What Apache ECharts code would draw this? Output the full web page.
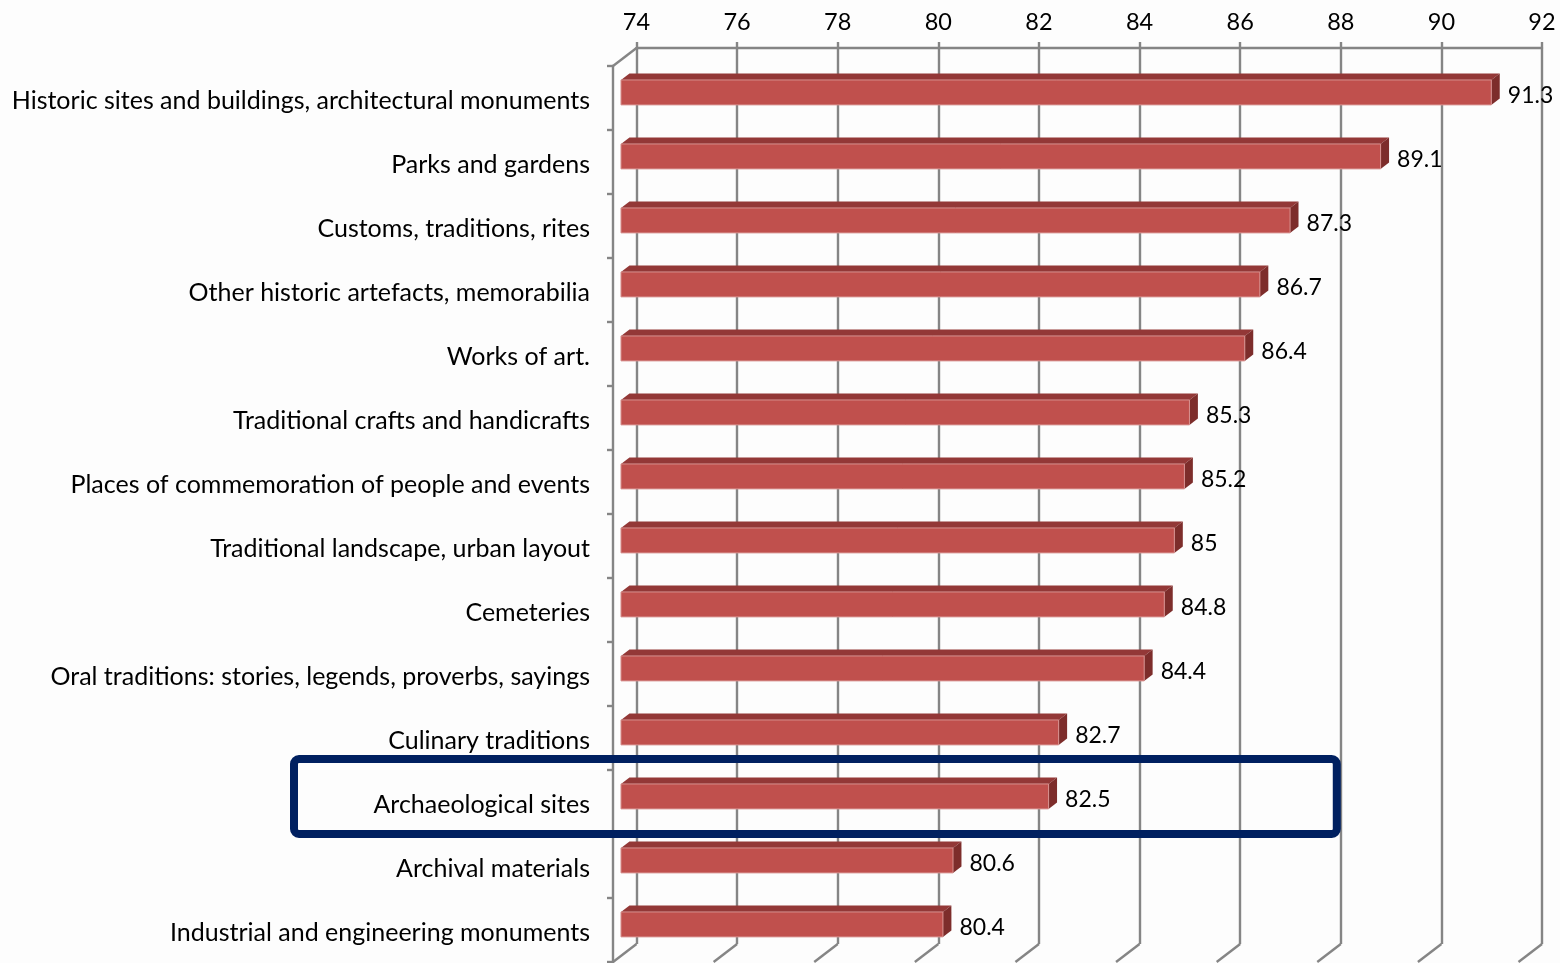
<!DOCTYPE html>
<html>
<head>
<meta charset="utf-8">
<script src="https://cdn.jsdelivr.net/npm/echarts@6/dist/echarts.min.js"></script>
<style>
  html, body { margin: 0; padding: 0; background: #fdfdfd; }
  #chart { width: 1560px; height: 963px; }
</style>
</head>
<body>
<div id="chart"></div>
<script>
// Categories, top to bottom
const categories = [
  'Historic sites and buildings, architectural monuments',
  'Parks and gardens',
  'Customs, traditions, rites',
  'Other historic artefacts, memorabilia',
  'Works of art.',
  'Traditional crafts and handicrafts',
  'Places of commemoration of people and events',
  'Traditional landscape, urban layout',
  'Cemeteries',
  'Oral traditions: stories, legends, proverbs, sayings',
  'Culinary traditions',
  'Archaeological sites',
  'Archival materials',
  'Industrial and engineering monuments'
];
const values = [91.3, 89.1, 87.3, 86.7, 86.4, 85.3, 85.2, 85, 84.8, 84.4, 82.7, 82.5, 80.6, 80.4];
const tickValues = [74, 76, 78, 80, 82, 84, 86, 88, 90, 92];
const highlighted = 'Archaeological sites';

const axisMin = 74, axisMax = 92, axisStep = 2;
const FONT = 'Lato';
const GRID_COLOR = '#858585';
// floor depth: offset from the back wall to the front edge of the side wall
const DEPTH = [23.5, -18];

const chart = echarts.init(document.getElementById('chart'), null, { renderer: 'canvas' });

// pseudo-3D bar: front face, darker top and right faces, value label
function renderBar(params, api) {
  const cat = api.value(0);
  const v = api.value(1);
  const p0 = api.coord([axisMin, cat]);
  const p1 = api.coord([v, cat]);
  const band = api.size([0, 1])[1];
  const h = band * 0.39;
  const fx = -DEPTH[0] * 0.66, fy = -DEPTH[1] * 0.69;   // bar front plane
  const bx = -DEPTH[0] * 0.30, by = -DEPTH[1] * 0.33;   // bar back plane
  const dx = bx - fx, dy = by - fy;
  const cy = p0[1];
  const xL = p0[0] + fx, xR = p1[0] + fx;
  const yT = cy + fy - h / 2, yB = cy + fy + h / 2;
  return {
    type: 'group',
    children: [
      { type: 'polygon', shape: { points: [[xL, yT], [xR, yT], [xR + dx, yT + dy], [xL + dx, yT + dy]] },
        style: { fill: '#933837' } },
      { type: 'polygon', shape: { points: [[xR, yT], [xR + dx, yT + dy], [xR + dx, yB + dy], [xR, yB]] },
        style: { fill: '#7d2d2b' } },
      { type: 'rect', shape: { x: xL, y: yT, width: xR - xL, height: h },
        style: { fill: '#C0504D', stroke: '#d7918f', lineWidth: 1 } },
      { type: 'text', style: { text: String(v), x: p1[0] + 1, y: cy + 16, fontFamily: FONT, fontSize: 23,
        fill: '#000', align: 'left', verticalAlign: 'middle' } }
    ]
  };
}

// floor edges of the back-wall gridlines and the top edge of the side wall
function renderFloor(params, api) {
  const t = api.value(0);
  const cs = params.coordSys;
  const x = api.coord([t, 0])[0];
  const yb = cs.y + cs.height;
  const children = [
    { type: 'line', shape: { x1: x, y1: yb, x2: x - DEPTH[0], y2: yb - DEPTH[1] },
      style: { stroke: GRID_COLOR, lineWidth: 2.4 } }
  ];
  if (t === axisMin) {
    children.push({ type: 'line', shape: { x1: cs.x, y1: cs.y, x2: cs.x - DEPTH[0], y2: cs.y - DEPTH[1] },
      style: { stroke: GRID_COLOR, lineWidth: 2.4 } });
  }
  return { type: 'group', children };
}

const lineStyle = { color: GRID_COLOR, width: 2.4 };

chart.setOption({
  backgroundColor: '#fdfdfd',
  animation: false,
  grid: [
    { left: 636.5, right: 18, top: 48, height: 896 },
    { left: 613, right: 41.5, top: 66, height: 896 }
  ],
  xAxis: [
    {
      gridIndex: 0, type: 'value', position: 'top',
      min: axisMin, max: axisMax, interval: axisStep,
      axisLine: { show: true, lineStyle },
      axisTick: { show: true, length: 6, lineStyle },
      splitLine: { show: true, lineStyle },
      axisLabel: { fontFamily: FONT, fontSize: 23.5, color: '#000', margin: 14 }
    },
    { gridIndex: 1, type: 'value', min: axisMin, max: axisMax, show: false }
  ],
  yAxis: [
    { gridIndex: 0, type: 'category', data: categories, inverse: true, show: false },
    {
      gridIndex: 1, type: 'category', data: categories, inverse: true,
      axisLine: { show: true, lineStyle },
      axisTick: { show: true, length: 6, lineStyle },
      splitLine: { show: false },
      axisLabel: {
        margin: 23,
        formatter: name => '{c|' + name + '}',
        rich: { c: { fontFamily: FONT, fontSize: 25, color: '#000', padding: [5, 0, 0, 0] } }
      }
    }
  ],
  series: [
    {
      type: 'custom', xAxisIndex: 0, yAxisIndex: 0, z: 1,
      data: tickValues.map(t => [t]),
      encode: { x: 0 },
      renderItem: renderFloor, silent: true
    },
    {
      type: 'custom', xAxisIndex: 0, yAxisIndex: 0, z: 3,
      data: values.map((v, i) => [i, v]),
      encode: { y: 0, x: 1 },
      renderItem: renderBar
    }
  ]
});

// frame around the highlighted category
const yc = chart.convertToPixel({ yAxisIndex: 1 }, highlighted);
const xr = chart.convertToPixel({ xAxisIndex: 0 }, 88);
chart.setOption({
  graphic: [{
    type: 'rect', z: 100,
    shape: { x: 294, y: yc - 43, width: xr - 4 - 294, height: 75, r: 5 },
    style: { fill: 'none', stroke: '#002060', lineWidth: 8 }
  }]
});
</script>
</body>
</html>
